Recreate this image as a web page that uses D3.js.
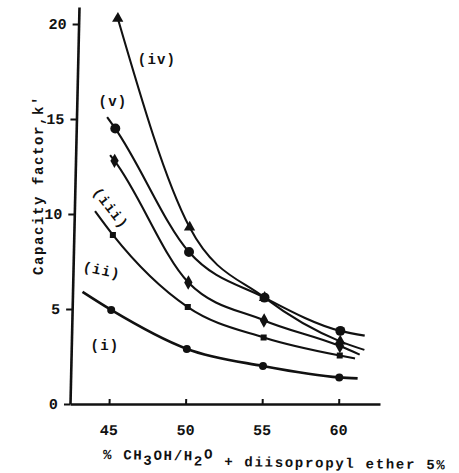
<!DOCTYPE html>
<html>
<head>
<meta charset="utf-8">
<script src="https://cdn.jsdelivr.net/npm/d3@7"></script>
<style>
  body { margin: 0; background: #fff; }
  svg { display: block; }
  .lbl { font-family: "Liberation Mono", "DejaVu Sans Mono", monospace; font-weight: bold; fill: #111; }
</style>
</head>
<body>
<svg id="chart" width="459" height="473"></svg>
<script>
// % CH3OH/H2O (x) and capacity factor k' for each curve
var pct = [45, 50, 55, 60];
var kI   = [4.95, 2.9, 2.0, 1.4];
var kII  = [8.9, 5.1, 3.5, 2.55];
var kIII = [12.8, 6.4, 4.4, 3.05];
var kIV  = [20.3, 9.3, 5.6, 3.3];
var kV   = [14.5, 8.0, 5.6, 3.85];

// where each drawn curve starts / stops
var startI = [43.1, 5.9],   endI = [61.2, 1.35];
var startII = [43.8, 10.15], endII = [61.0, 2.4];
var startIII = [44.7, 13.1], endIII = [61.3, 2.6];
var startIV = null,          endIV = [61.6, 2.85];
var startV = [44.45, 15.1],  endV = [61.6, 3.6];

var xTicks = [45, 50, 55, 60];
var yTicks = [0, 5, 10, 15, 20];

var svg = d3.select('#chart');

var x = d3.scaleLinear().domain([42.45, 62.7]).range([70, 380]);
var y = d3.scaleLinear().domain([0, 20.9]).range([404, 7]);

// the scan leans a little: skew round the x axis
var g = svg.append('g')
  .attr('transform', 'translate(0,404) skewX(-1.3) translate(0,-404)');

var xAxis = g.append('g').attr('transform', 'translate(0,404)')
  .call(d3.axisBottom(x).tickValues(xTicks).tickSizeInner(-5).tickSizeOuter(0).tickFormat(d3.format('d')));
var yAxis = g.append('g').attr('transform', 'translate(70,0)')
  .call(d3.axisLeft(y).tickValues(yTicks).tickSize(6).tickSizeOuter(0).tickFormat(d3.format('d')));

[xAxis, yAxis].forEach(function (a) {
  a.select('.domain').attr('stroke', '#111').attr('stroke-width', 2.6);
  a.selectAll('.tick line').attr('stroke', '#111').attr('stroke-width', 2);
  a.selectAll('.tick text').attr('class', 'lbl').attr('font-size', 15).attr('fill', '#111');
});
xAxis.selectAll('.tick text').attr('y', 20);
yAxis.selectAll('.tick text').attr('x', -12);

var series = [
  { k: kI,   start: startI,   end: endI,   sym: d3.symbolCircle,   size: 50, w: 2.6 },
  { k: kII,  start: startII,  end: endII,  sym: d3.symbolSquare,   size: 36, w: 2.1 },
  { k: kIII, start: startIII, end: endIII, sym: d3.symbolDiamond,  size: 60, w: 2.1 },
  { k: kIV,  start: startIV,  end: endIV,  sym: d3.symbolTriangle, size: 55, w: 2.0 },
  { k: kV,   start: startV,   end: endV,   sym: d3.symbolCircle,   size: 78, w: 2.1 }
];

var line = d3.line()
  .x(function (d) { return x(d[0]); })
  .y(function (d) { return y(d[1]); })
  .curve(d3.curveMonotoneX);

series.forEach(function (s) {
  var pts = pct.map(function (p, i) { return [p, s.k[i]]; });
  var path = (s.start ? [s.start] : []).concat(pts, [s.end]);
  g.append('path').datum(path)
    .attr('d', line)
    .attr('fill', 'none')
    .attr('stroke', '#111')
    .attr('stroke-width', s.w);
  g.selectAll(null).data(pts).enter().append('path')
    .attr('transform', function (d) { return 'translate(' + x(d[0]) + ',' + y(d[1]) + ')'; })
    .attr('d', d3.symbol().type(s.sym).size(s.size))
    .attr('fill', '#111');
});

// curve labels
function label(txt, px, py, rot) {
  svg.append('text').attr('class', 'lbl')
    .attr('font-size', 14).attr('letter-spacing', 1.2)
    .attr('text-anchor', 'middle')
    .attr('transform', 'translate(' + px + ',' + py + ') rotate(' + rot + ')')
    .attr('dy', '0.35em')
    .text(txt);
}
label('(iv)', 157, 59, 0);
label('(v)', 113, 101, 0);
label('(iii)', 111, 208, 52);
label('(ii)', 102, 270, 12);
label('(i)', 105, 345, 0);

// axis titles
svg.append('text').attr('class', 'lbl')
  .attr('font-size', 14).attr('letter-spacing', 1.6)
  .attr('text-anchor', 'middle')
  .attr('transform', 'translate(43,185) rotate(-90)')
  .text("Capacity factor,k'");

var xt = svg.append('text').attr('class', 'lbl')
  .attr('font-size', 14).attr('letter-spacing', 1.7)
  .attr('transform', 'translate(103,459) rotate(0.9)');
xt.append('tspan').text('% CH');
xt.append('tspan').attr('dy', 5).text('3');
xt.append('tspan').attr('dy', -5).text('OH/H');
xt.append('tspan').attr('dy', 5).text('2');
xt.append('tspan').attr('dy', -7).text('O');
xt.append('tspan').attr('dy', 7).text(' + diisopropyl ether 5%');
</script>
</body>
</html>
